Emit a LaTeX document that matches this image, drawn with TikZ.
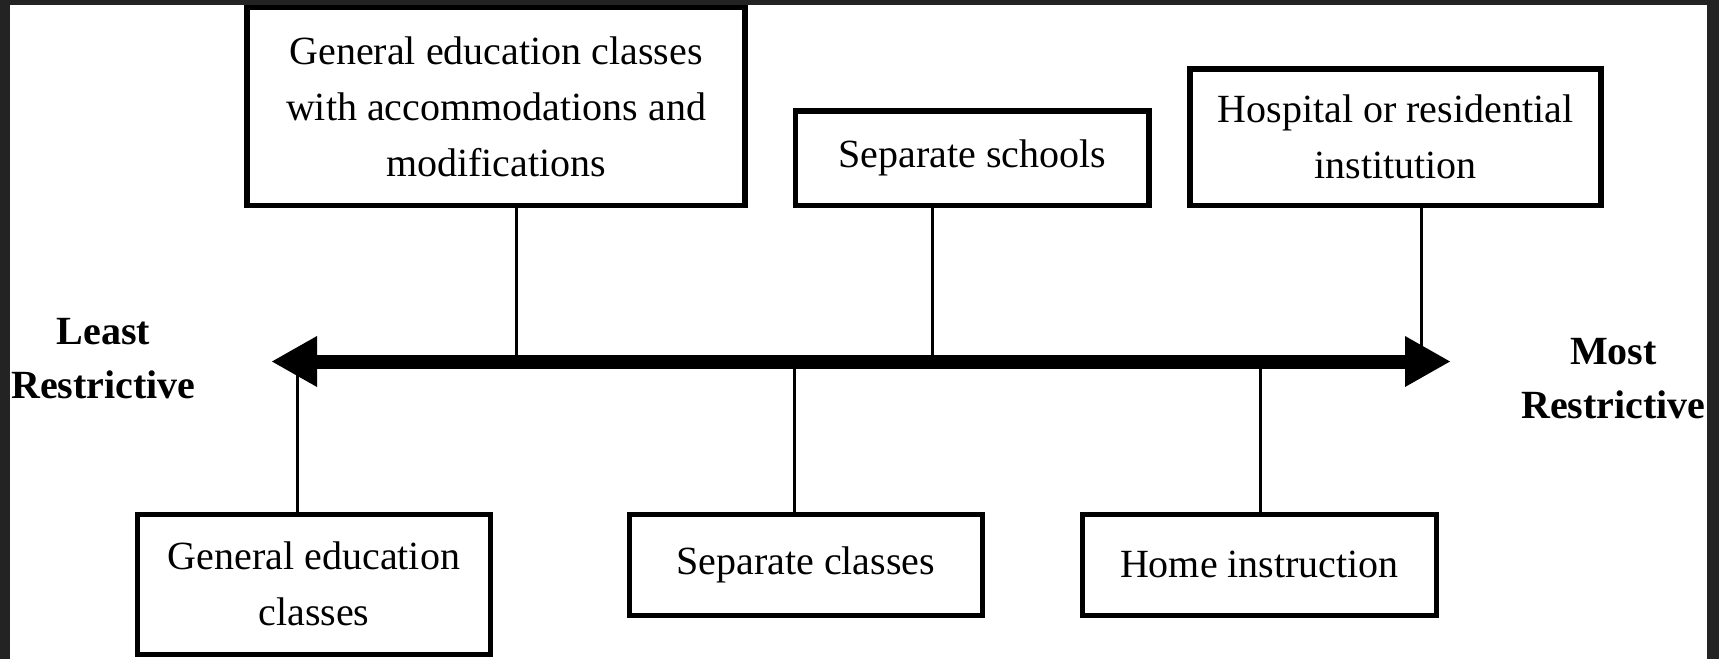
\documentclass[tikz,border=0pt]{standalone}
\usepackage{fontspec}
\setmainfont{Liberation Serif}
\usetikzlibrary{arrows.meta}
\definecolor{framedark}{RGB}{35,35,35}
\begin{document}
\begin{tikzpicture}[x=0.5pt,y=-0.5pt,
  box/.style={draw,line width=2.75pt,rectangle,inner sep=0pt,align=center,
    font=\fontsize{20pt}{28pt}\selectfont},
  lowbox/.style={box,line width=2.5pt},
  link/.style={line width=1.5pt},
  endlabel/.style={align=center,inner sep=0pt,
    font=\fontsize{20pt}{27pt}\selectfont\bfseries},
  tip/.style={Triangle[length=22.5pt,width=25.5pt,line width=0pt]},
  axis/.style={line width=7pt,{Triangle[length=22.5pt,width=25.5pt,line width=0pt]}-{Triangle[length=22.5pt,width=25.5pt,line width=0pt]}}
]
\useasboundingbox (0,0) rectangle (1719,659);
\fill[framedark] (0,0) rectangle (1719,659);
\fill[white] (10,4.5) rectangle (1707,659);

% upper boxes
\node[box,minimum width=249pt,minimum height=99pt] (b1) at (496,106.5)
  {General education classes\\with accommodations and\\modifications};
\node[box,minimum width=176.75pt,minimum height=47.25pt] (b2) at (972.25,158.25)
  {Separate schools};
\node[box,minimum width=205.5pt,minimum height=68.25pt] (b3) at (1395.5,137.25)
  {Hospital or residential\\institution};

% lower boxes
\node[lowbox,minimum width=176.5pt,minimum height=70pt] (b4) at (314,584)
  {General education\\classes};
\node[lowbox,minimum width=176.75pt,minimum height=50.5pt] (b5) at (805.75,564.5)
  {Separate classes};
\node[lowbox,minimum width=177pt,minimum height=50.5pt] (b6) at (1259.5,564.5)
  {Home instruction};

% points on the axis
\coordinate (aL) at (272,361.5);
\coordinate (aR) at (1450,361.5);
\coordinate (a1) at (516,361.5);
\coordinate (a2) at (932,361.5);
\coordinate (a3) at (1421,361.5);
\coordinate (a4) at (297,361.5);
\coordinate (a5) at (794,361.5);
\coordinate (a6) at (1260,361.5);

% connectors
\draw[link] (b1.south -| a1) -- (a1);
\draw[link] (b2.south -| a2) -- (a2);
\draw[link] (b3.south -| a3) -- (a3);
\draw[link] (a4) -- (b4.north -| a4);
\draw[link] (a5) -- (b5.north -| a5);
\draw[link] (a6) -- (b6.north -| a6);

% main axis
\draw[axis] (aL) -- (aR);

% end labels
\node[endlabel] (least) at (103.5,358.75) {Least\\Restrictive};
\node[endlabel] (most) at (1613.5,378.25) {Most\\Restrictive};
\end{tikzpicture}
\end{document}
